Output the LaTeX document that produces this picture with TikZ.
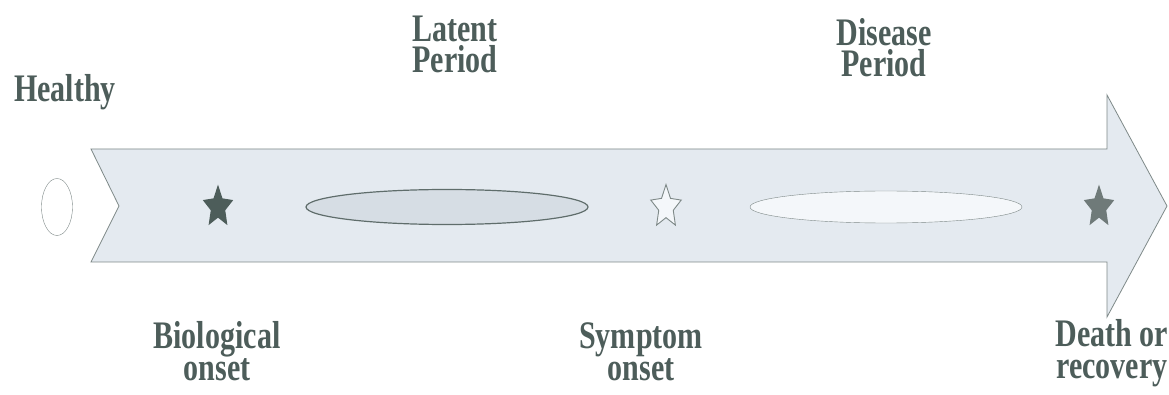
\documentclass[tikz,border=0pt]{standalone}
\usepackage{fontspec}
\usetikzlibrary{shapes.geometric,positioning}
\newfontfamily\labelfont{Liberation Serif}[FakeStretch=0.77]
\definecolor{inkgray}{HTML}{4D5D5A}
\definecolor{bodyfill}{HTML}{E4EAF0}
\definecolor{edgegray}{HTML}{7E8988}
\definecolor{latentfill}{HTML}{D6DDE4}
\definecolor{diseasefill}{HTML}{F4F7FA}
\definecolor{endgray}{HTML}{6F7A79}

\begin{document}
\begin{tikzpicture}[x=1pt,y=-1pt,
  caption/.style={font=\labelfont\bfseries\fontsize{39}{31.5}\selectfont,
    text=inkgray,align=center,inner sep=0pt,anchor=base},
  event/.style={star,star points=5,star point ratio=2.1,minimum size=32pt,
    inner sep=0pt,yscale=1.4},
  phase/.style={ellipse,inner sep=0pt,minimum height=35pt}]
  \useasboundingbox[fill=white] (0,0) rectangle (1169,395);
  % timeline arrow
  \draw[edgegray,fill=bodyfill,line width=0.8pt]
    (91,149) -- (1107,149) -- (1107,95) -- (1167,206) -- (1107,317)
    -- (1107,262) -- (91,262) -- (119,206) -- cycle;
  % stages
  \node[phase,draw=edgegray,fill=white,minimum width=31pt,minimum height=57pt] (healthy) at (57,207) {};
  \node[event,fill=inkgray] (bio) at (218,207) {};
  \node[phase,draw=inkgray!90,fill=latentfill,line width=1.2pt,minimum width=282pt] (latent) at (447,207) {};
  \node[event,draw=edgegray,fill=diseasefill,line width=0.9pt] (symptom) at (666,207) {};
  \node[phase,draw=edgegray,fill=diseasefill,minimum width=272pt,minimum height=32pt] (disease) at (886,207) {};
  \node[event,fill=endgray] (outcome) at (1099,207) {};
  % captions (base = last line)
  \node[caption] (healthylbl) at (65,102) {Healthy};
  \node[caption] (latentlbl) at (455,73) {Latent\\Period};
  \node[caption] (diseaselbl) at (884,77) {Disease\\Period};
  \node[caption] (biolbl) at (217,380) {Biological\\onset};
  \node[caption] (symptomlbl) at (641,380) {Symptom\\onset};
  \node[caption] (outcomelbl) at (1112,378) {Death or\\recovery};
\end{tikzpicture}
\end{document}
